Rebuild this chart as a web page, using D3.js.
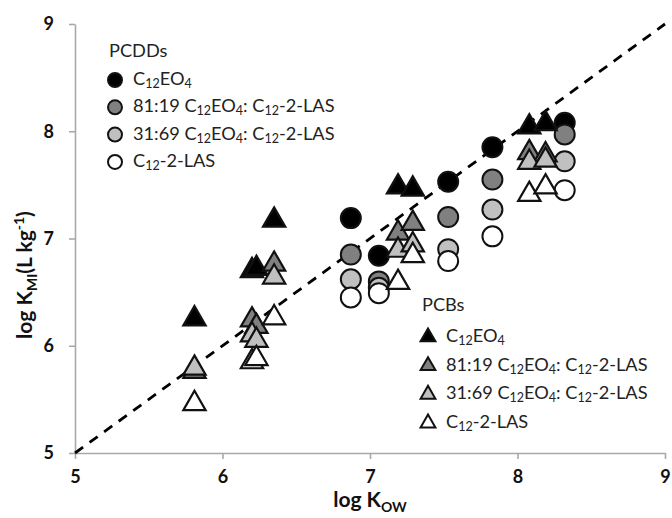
<!DOCTYPE html>
<html><head><meta charset="utf-8">
<script src="https://cdn.jsdelivr.net/npm/d3@7"></script>
<style>
body{margin:0;background:#fff;}
svg{display:block;font-family:Lato,"Open Sans",sans-serif;}
</style></head>
<body><svg id="c" width="672" height="518"></svg>
<script>
// ---- data ----
const seriesNames = ["C12EO4", "81:19", "31:69", "C12-2-LAS"];
const seriesFill = ["#000000", "#808080", "#c0c0c0", "#ffffff"];

const pcddKow = [6.87, 7.06, 7.53, 7.83, 8.32];
const pcddC12EO4 = [7.19, 6.84, 7.53, 7.85, 8.08];
const pcdd8119 = [6.85, 6.60, 7.20, 7.55, 7.97];
const pcdd3169 = [6.62, 6.54, 6.90, 7.27, 7.72];
const pcddLAS = [6.45, 6.49, 6.79, 7.02, 7.45];

const pcbKow = [5.81, 6.20, 6.23, 6.35, 7.19, 7.29, 8.08, 8.19];
const pcbC12EO4 = [6.25, 6.70, 6.72, 7.17, 7.48, 7.46, 8.04, 8.07];
const pcb8119 = [5.76, 6.24, 6.18, 6.76, 7.05, 7.14, 7.80, 7.78];
const pcb3169 = [5.79, 6.10, 6.05, 6.64, 6.89, 6.94, 7.71, 7.73];
const pcbLAS = [5.46, 5.85, 5.88, 6.26, 6.59, 6.84, 7.41, 7.48];

const xTicks = [5, 6, 7, 8, 9];
const yTicks = [5, 6, 7, 8, 9];
const oneToOne = [[5, 5], [9, 9]];

// ---- drawing ----
const svg = d3.select("#c");
const x = d3.scaleLinear().domain([5, 9]).range([75, 665]);
const y = d3.scaleLinear().domain([5, 9]).range([453, 24]);
const axisColor = "#a9a9a9";

const gx = svg.append("g").attr("transform", "translate(0,453)")
  .call(d3.axisBottom(x).tickValues(xTicks).tickSize(6).tickSizeOuter(0).tickPadding(11).tickFormat(d3.format("d")));
const gy = svg.append("g").attr("transform", "translate(75,0)")
  .call(d3.axisLeft(y).tickValues(yTicks).tickSize(6).tickSizeOuter(0).tickPadding(15).tickFormat(d3.format("d")));
[gx, gy].forEach(g => {
  g.select(".domain").attr("stroke", axisColor).attr("stroke-width", 1.6);
  g.selectAll(".tick line").attr("stroke", axisColor).attr("stroke-width", 1.6);
  g.selectAll(".tick text").attr("fill", "#111").attr("font-size", 18).attr("font-weight", "bold")
    .attr("font-family", "Lato, sans-serif");
});

// 1:1 line
svg.append("path").datum(oneToOne)
  .attr("d", d3.line().x(d => x(d[0])).y(d => y(d[1])))
  .attr("stroke", "#000").attr("stroke-width", 2.8).attr("stroke-dasharray", "10,8").attr("fill", "none");

const stroke = "#111";
function drawCircles(vals, i) {
  svg.append("g").selectAll("circle").data(pcddKow.map((k, j) => [k, vals[j]])).join("circle")
    .attr("cx", d => x(d[0])).attr("cy", d => y(d[1])).attr("r", 10)
    .attr("fill", seriesFill[i]).attr("stroke", stroke).attr("stroke-width", 2);
}
const triBig = d3.symbol().type(d3.symbolTriangle).size(215);
function drawTris(vals, i) {
  svg.append("g").selectAll("path").data(pcbKow.map((k, j) => [k, vals[j]])).join("path")
    .attr("d", triBig).attr("transform", d => `translate(${x(d[0])},${y(d[1])})`)
    .attr("fill", seriesFill[i]).attr("stroke", stroke).attr("stroke-width", 2.2).attr("stroke-linejoin", "miter");
}
[pcddC12EO4, pcdd8119, pcdd3169, pcddLAS].forEach((v, i) => drawCircles(v, i));
[pcbC12EO4, pcb8119, pcb3169, pcbLAS].forEach((v, i) => drawTris(v, i));

// legend label writer
const fs = 18.2, fsSub = 12.5, sh = 5;
function label(g, xPos, yPos, name) {
  const t = g.append("text").attr("x", xPos).attr("y", yPos).attr("font-size", fs).attr("fill", "#222")
    .attr("dominant-baseline", "middle");
  const sub = (s) => t.append("tspan").attr("font-size", fsSub).attr("dy", sh).text(s);
  const norm = (s) => t.append("tspan").attr("font-size", fs).attr("dy", -sh).text(s);
  const first = (s) => t.append("tspan").text(s);
  if (name === "C12EO4") { first("C"); sub("12"); norm("EO"); sub("4"); }
  else if (name === "C12-2-LAS") { first("C"); sub("12"); norm("-2-LAS"); }
  else { first(name + " C"); sub("12"); norm("EO"); sub("4"); norm(": C"); sub("12"); norm("-2-LAS"); }
}
const legRow = 27.3;
const lg1 = svg.append("g");
lg1.append("text").attr("x", 109).attr("y", 52).attr("font-size", fs).attr("fill", "#222")
  .attr("dominant-baseline", "middle").text("PCDDs");
seriesNames.forEach((n, i) => {
  const yy = 80 + i * legRow;
  lg1.append("circle").attr("cx", 115).attr("cy", yy).attr("r", 7)
    .attr("fill", seriesFill[i]).attr("stroke", stroke).attr("stroke-width", 2);
  label(lg1, 133, yy, n);
});
const triSmall = d3.symbol().type(d3.symbolTriangle).size(95);
const lg2 = svg.append("g");
lg2.append("text").attr("x", 422).attr("y", 306).attr("font-size", fs).attr("fill", "#222")
  .attr("dominant-baseline", "middle").text("PCBs");
seriesNames.forEach((n, i) => {
  const yy = 337 + i * 28.7;
  lg2.append("path").attr("d", triSmall).attr("transform", `translate(428,${yy})`)
    .attr("fill", seriesFill[i]).attr("stroke", stroke).attr("stroke-width", 2);
  label(lg2, 446, yy, n);
});

// axis titles
const xt = svg.append("text").attr("x", 370).attr("y", 507).attr("text-anchor", "middle")
  .attr("font-size", 21).attr("font-weight", "bold").attr("fill", "#111");
xt.append("tspan").text("log K");
xt.append("tspan").attr("font-size", 14).attr("dy", 5).text("OW");

const yt = svg.append("text").attr("transform", "translate(32,275) rotate(-90)").attr("text-anchor", "middle")
  .attr("font-size", 21).attr("font-weight", "bold").attr("fill", "#111");
yt.append("tspan").text("log K");
yt.append("tspan").attr("font-size", 14).attr("dy", 5).text("MI");
yt.append("tspan").attr("dy", -5).text("(L kg");
yt.append("tspan").attr("font-size", 14).attr("dy", -8).text("-1");
yt.append("tspan").attr("dy", 8).text(")");
</script></body></html>
